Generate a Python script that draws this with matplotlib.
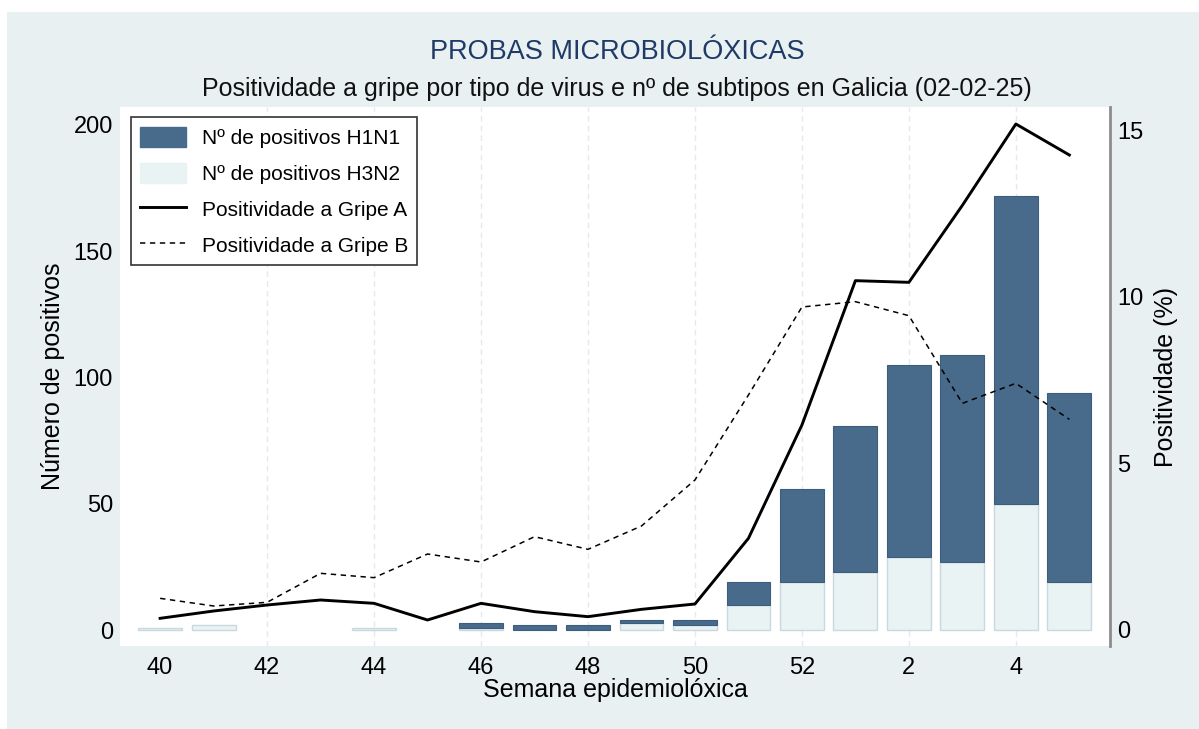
import matplotlib
matplotlib.use("Agg")
from matplotlib import pyplot as plt
from matplotlib.patches import Patch, Rectangle
from matplotlib.lines import Line2D
import numpy as np

# %% data
weeks = ["40", "41", "42", "43", "44", "45", "46", "47", "48", "49", "50",
         "51", "52", "1", "2", "3", "4", "5"]
h3n2 = [1, 2, 0, 0, 1, 0, 1, 0, 0, 3, 2, 10, 19, 23, 29, 27, 50, 19]
h1n1 = [0, 0, 0, 0, 0, 0, 2, 2, 2, 1, 2, 9, 37, 58, 76, 82, 122, 75]
gripe_a = [0.35, 0.57, 0.75, 0.9, 0.8, 0.3, 0.8, 0.55, 0.4, 0.62, 0.78,
           2.75, 6.15, 10.48, 10.43, 12.74, 15.18, 14.25]
gripe_b = [0.95, 0.72, 0.83, 1.7, 1.57, 2.28, 2.04, 2.8, 2.42, 3.12, 4.5,
           7.05, 9.69, 9.85, 9.43, 6.8, 7.4, 6.32]

tick_idx = list(range(0, len(weeks), 2))
tick_labels = [weeks[i] for i in tick_idx]

# %% style
c_h1 = "#486a8b"
c_h3 = "#eaf3f3"
panel = "#e8f0f2"
title_col = "#1f3a66"

plt.rcParams["font.family"] = ["Liberation Sans", "DejaVu Sans"]

fig = plt.figure(figsize=(11.99, 7.29), dpi=100)
fig.patch.set_facecolor("white")
fig.patches.append(Rectangle((7 / 1199, 0), 1, 1 - 12 / 729,
                             transform=fig.transFigure, facecolor=panel,
                             edgecolor="none", zorder=-10))

ax = fig.add_axes([120 / 1199, 1 - 646 / 729, 990 / 1199, 539 / 729])
ax.set_facecolor("white")
x = np.arange(len(weeks))

# no outline for empty bars
lw3 = [1.0 if v > 0 else 0 for v in h3n2]
lw1 = [0.8 if v > 0 else 0 for v in h1n1]
ax.bar(x, h3n2, width=0.82, color=c_h3, edgecolor="#c9d7df", linewidth=lw3)
ax.bar(x, h1n1, width=0.82, bottom=h3n2, color=c_h1, edgecolor="#3d5d7c",
       linewidth=lw1)

ax.set_xlim(-0.75, 17.76)
ax.set_ylim(-6.3, 207.1)
ax.set_yticks([0, 50, 100, 150, 200])
ax.set_xticks(tick_idx)
ax.set_xticklabels(tick_labels)
for i in tick_idx[1:]:
    ax.axvline(i, color="#e3eaee", lw=1, ls=(0, (4, 3)), zorder=0)

ax.tick_params(axis="both", length=0, labelsize=17)
ax.tick_params(axis="y", pad=5)
ax.tick_params(axis="x", pad=8)
for s in ax.spines.values():
    s.set_visible(False)
ax.set_ylabel("Número de positivos", fontsize=18, labelpad=6)
ax.set_xlabel("Semana epidemiolóxica", fontsize=18, labelpad=-1)

ax2 = ax.twinx()
ax2.plot(x, gripe_a, color="black", lw=2.1)
ax2.plot(x, gripe_b, color="black", lw=1.1, ls=(0, (3.5, 3)))
ax2.set_ylim(-0.48, 15.69)
ax2.set_yticks([0, 5, 10, 15])
ax2.tick_params(axis="y", length=0, labelsize=17, pad=5)
for s in ["top", "left", "bottom"]:
    ax2.spines[s].set_visible(False)
ax2.spines["right"].set_color("#8c8c8c")
ax2.spines["right"].set_linewidth(2)
ax2.set_ylabel("Positividade (%)", fontsize=18, labelpad=8)

handles = [Patch(facecolor=c_h1, edgecolor=c_h1),
           Patch(facecolor=c_h3, edgecolor=c_h3),
           Line2D([], [], color="black", lw=2.1),
           Line2D([], [], color="black", lw=1.1, ls=(0, (3.5, 3)))]
labels = ["Nº de positivos H1N1", "Nº de positivos H3N2",
          "Positividade a Gripe A", "Positividade a Gripe B"]
leg = ax2.legend(handles, labels, loc="upper left",
                 bbox_to_anchor=(0.011, 0.981), fontsize=15,
                 frameon=True, fancybox=False, edgecolor="#333333",
                 framealpha=1, handlelength=2.2, handleheight=1.1,
                 labelspacing=0.72, borderpad=0.45, handletextpad=0.75,
                 borderaxespad=0)
leg.get_frame().set_linewidth(1.2)

fig.text(617 / 1199, 1 - 52 / 729, "PROBAS MICROBIOLÓXICAS", ha="center",
         va="center", fontsize=19.5, color=title_col)
fig.text(617 / 1199, 1 - 89 / 729,
         "Positividade a gripe por tipo de virus e nº de subtipos en Galicia (02-02-25)",
         ha="center", va="center", fontsize=18, color="#111111")

fig.savefig("out.png", dpi=100, facecolor=fig.get_facecolor())
